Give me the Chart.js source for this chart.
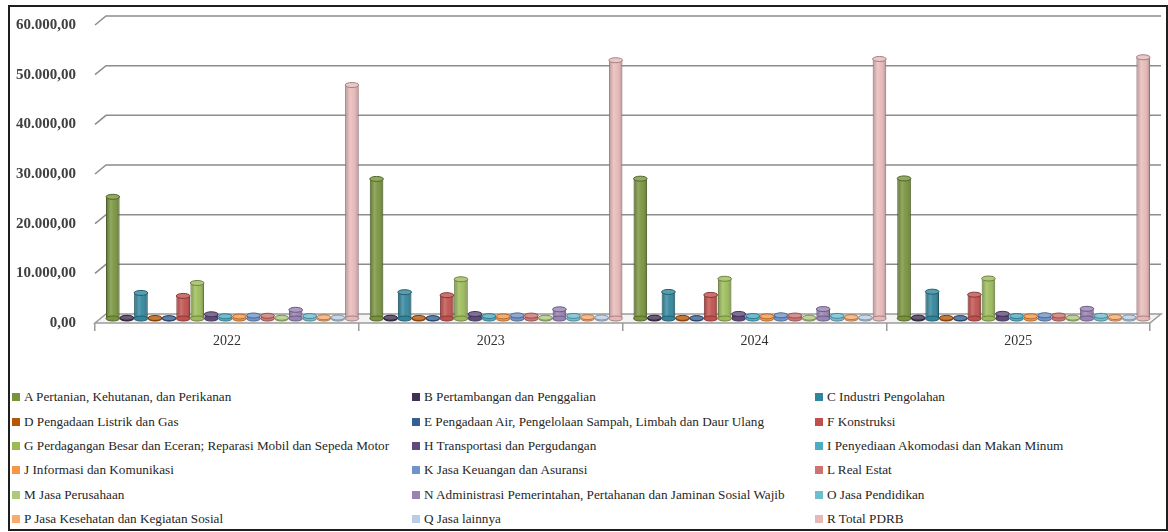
<!DOCTYPE html>
<html>
<head>
<meta charset="utf-8">
<script src="https://cdn.jsdelivr.net/npm/chart.js@4"></script>
<style>
  body { margin: 0; background: #fff; }
  .frame { position: absolute; left: 8px; top: 5px; width: 1160px; height: 526px; box-sizing: border-box; border: 2px solid #1e1e1e; }
  .chart-box { position: absolute; left: 0; top: 0; width: 1168px; height: 372px; }
  .legend { position: absolute; left: 12px; top: 385px; width: 1150px; display: grid; grid-template-columns: 400px 403px 340px; grid-auto-rows: 24.4px; font-family: "Liberation Serif", serif; font-size: 13.2px; color: #262626; }
  .legend-item { display: flex; align-items: center; white-space: nowrap; }
  .legend-box { width: 8px; height: 8px; margin-right: 4px; flex: none; }
</style>
</head>
<body>
<div class="frame"></div>
<div class="chart-box"><canvas id="pdrb"></canvas></div>
<div class="legend" id="legend"></div>
<script>
// data
const years = ['2022', '2023', '2024', '2025']
const sectors = [
  'A Pertanian, Kehutanan, dan Perikanan',
  'B Pertambangan dan Penggalian',
  'C Industri Pengolahan',
  'D Pengadaan Listrik dan Gas',
  'E Pengadaan Air, Pengelolaan Sampah, Limbah dan Daur Ulang',
  'F Konstruksi',
  'G Perdagangan Besar dan Eceran; Reparasi Mobil dan Sepeda Motor',
  'H Transportasi dan Pergudangan',
  'I Penyediaan Akomodasi dan Makan Minum',
  'J Informasi dan Komunikasi',
  'K Jasa Keuangan dan Asuransi',
  'L Real Estat',
  'M Jasa Perusahaan',
  'N Administrasi Pemerintahan, Pertahanan dan Jaminan Sosial Wajib',
  'O Jasa Pendidikan',
  'P Jasa Kesehatan dan Kegiatan Sosial',
  'Q Jasa lainnya',
  'R Total PDRB'
]
const v2022 = [24500, 150, 5150, 100, 60, 4550, 7150, 850, 450, 400, 600, 550, 150, 1750, 500, 250, 200, 47000]
const v2023 = [28100, 160, 5300, 110, 65, 4700, 7900, 900, 480, 420, 620, 580, 160, 1850, 520, 270, 210, 52000]
const v2024 = [28150, 165, 5350, 115, 70, 4750, 8000, 920, 490, 430, 640, 590, 165, 1900, 530, 280, 220, 52250]
const v2025 = [28200, 170, 5400, 120, 72, 4800, 8050, 940, 500, 440, 650, 600, 170, 1950, 540, 290, 230, 52600]
const yTicks = [0, 10000, 20000, 30000, 40000, 50000, 60000]

const colors = ['#77933c', '#403152', '#31859c', '#b65708', '#366092', '#c0504d',
  '#9bbb59', '#604a7b', '#4bacc6', '#f79646', '#7094c8', '#cd7472',
  '#afc97a', '#9983b5', '#6fbdd1', '#f9ab6b', '#b9cde5', '#e6b9b8']

function darken(hex, f) {
  const n = parseInt(hex.slice(1), 16)
  const r = Math.round((n >> 16) * f), g = Math.round(((n >> 8) & 255) * f), b = Math.round((n & 255) * f)
  return `rgb(${r},${g},${b})`
}

function fmt(v) {
  return Math.round(v).toString().replace(/\B(?=(\d{3})+(?!\d))/g, '.') + ',00'
}

const allYears = [v2022, v2023, v2024, v2025]
const datasets = sectors.map((name, i) => ({
  label: name,
  data: allYears.map(arr => arr[i]),
  backgroundColor: colors[i],
  borderColor: darken(colors[i], 0.7),
  borderWidth: 1,
  categoryPercentage: 0.96,
  barPercentage: 0.97
}))

// 3d depth offset
const DX = 11, DY = 9

const depthPlugin = {
  id: 'depth',
  beforeDatasetsDraw(chart) {
    const ctx = chart.ctx
    const y = chart.scales.y
    const area = chart.chartArea
    ctx.save()
    // floor
    const y0 = y.getPixelForValue(0)
    ctx.beginPath()
    ctx.moveTo(area.left, y0)
    ctx.lineTo(area.right, y0)
    ctx.lineTo(area.right + DX, y0 - DY)
    ctx.lineTo(area.left + DX, y0 - DY)
    ctx.closePath()
    ctx.fillStyle = '#f4f4f4'
    ctx.fill()
    ctx.strokeStyle = '#9a9a9a'
    ctx.lineWidth = 1.5
    ctx.stroke()
    // back wall grid lines
    yTicks.forEach(v => {
      if (v === 0) return
      const py = y.getPixelForValue(v)
      ctx.beginPath()
      ctx.moveTo(area.left, py)
      ctx.lineTo(area.left + DX, py - DY)
      ctx.lineTo(area.right + DX, py - DY)
      ctx.strokeStyle = '#8c8c8c'
      ctx.lineWidth = 1.5
      ctx.stroke()
    })
    ctx.restore()
    // bars stand in the middle of the floor
    ctx.save()
    ctx.translate(DX / 2, -DY / 2)
  },
  afterDatasetsDraw(chart) {
    const ctx = chart.ctx
    chart.data.datasets.forEach((ds, di) => {
      const meta = chart.getDatasetMeta(di)
      meta.data.forEach(bar => {
        const w = bar.width, x = bar.x, top = bar.y, base = bar.base
        const g = ctx.createLinearGradient(x - w / 2, 0, x + w / 2, 0)
        g.addColorStop(0, 'rgba(0,0,0,0.2)')
        g.addColorStop(0.35, 'rgba(255,255,255,0.2)')
        g.addColorStop(0.6, 'rgba(255,255,255,0.05)')
        g.addColorStop(1, 'rgba(0,0,0,0.25)')
        ctx.fillStyle = g
        ctx.fillRect(x - w / 2 + 0.5, top, w - 1, base - top)
        // bottom and top caps
        ctx.beginPath()
        ctx.ellipse(x, base, w / 2, 2.5, 0, 0, Math.PI * 2)
        ctx.fillStyle = ds.backgroundColor
        ctx.fill()
        ctx.strokeStyle = ds.borderColor
        ctx.lineWidth = 1
        ctx.stroke()
        ctx.beginPath()
        ctx.ellipse(x, top, w / 2, 2.5, 0, 0, Math.PI * 2)
        ctx.fillStyle = ds.backgroundColor
        ctx.fill()
        ctx.fillStyle = 'rgba(255,255,255,0.2)'
        ctx.fill()
        ctx.stroke()
      })
    })
    ctx.restore()
  }
}

const chart = new Chart(document.getElementById('pdrb'), {
  type: 'bar',
  data: { labels: years, datasets: datasets },
  options: {
    responsive: true,
    maintainAspectRatio: false,
    animation: false,
    layout: { padding: { top: 25, right: 18, left: 0, bottom: 0 } },
    plugins: {
      legend: { display: false },
      tooltip: { enabled: false }
    },
    scales: {
      x: {
        grid: { display: true, drawOnChartArea: false, drawTicks: true, tickLength: 8, color: '#9a9a9a', lineWidth: 1.5 },
        border: { display: false },
        ticks: { color: '#333', padding: 2, font: { family: 'Liberation Serif', size: 14 } },
        afterFit(scale) { scale.height = 49 }
      },
      y: {
        min: 0,
        max: 60000,
        afterBuildTicks(scale) { scale.ticks = yTicks.map(v => ({ value: v })) },
        grid: { display: false },
        border: { display: false },
        ticks: {
          color: '#404040',
          padding: 11,
          font: { family: 'Liberation Serif', size: 15, weight: 'bold' },
          callback: v => fmt(v)
        },
        afterFit(scale) { scale.width = 95 }
      }
    }
  },
  plugins: [depthPlugin]
})

// legend in three columns
const legend = document.getElementById('legend')
datasets.forEach(ds => {
  const item = document.createElement('div')
  item.className = 'legend-item'
  const box = document.createElement('span')
  box.className = 'legend-box'
  box.style.background = ds.backgroundColor
  const txt = document.createElement('span')
  txt.textContent = ds.label
  item.appendChild(box)
  item.appendChild(txt)
  legend.appendChild(item)
})
</script>
</body>
</html>
